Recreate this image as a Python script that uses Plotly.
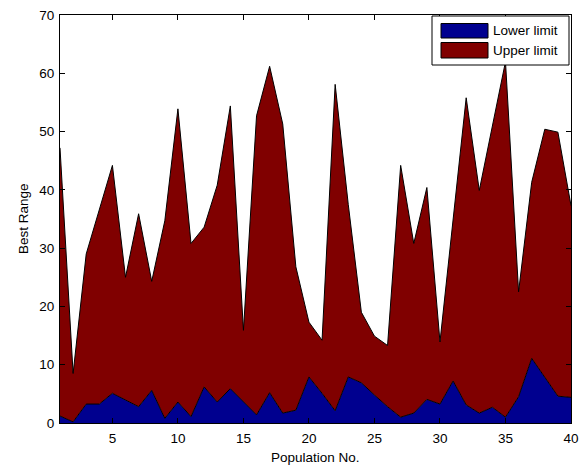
import plotly.graph_objects as go

population = list(range(1, 41))
lower_limit = [1.2, 0.2, 3.25, 3.25, 5.1, 3.9, 2.8, 5.6, 0.8, 3.6,
               1.1, 6.2, 3.6, 5.9, 3.6, 1.4, 5.2, 1.7, 2.2, 7.9,
               5.1, 2.1, 7.9, 6.9, 4.8, 2.8, 1.0, 1.7, 4.05, 3.25,
               7.2, 3.1, 1.7, 2.7, 1.0, 4.5, 11.1, 7.9, 4.6, 4.4]
upper_limit = [47.2, 8.5, 29.0, 36.5, 44.2, 25.0, 35.9, 24.3, 34.7, 53.9,
               30.8, 33.6, 40.8, 54.4, 15.9, 52.7, 61.2, 51.3, 26.8, 17.3,
               14.2, 58.1, 37.5, 19.0, 14.9, 13.3, 44.2, 30.8, 40.4, 13.9,
               34.5, 55.8, 39.9, 50.7, 62.0, 22.5, 41.3, 50.4, 49.9, 37.3]
series_names = ["Lower limit", "Upper limit"]
series_colors = ["#00008F", "#800000"]
x_title = "Population No."
y_title = "Best Range"

x_ticks = [5, 10, 15, 20, 25, 30, 35, 40]
y_ticks = [0, 10, 20, 30, 40, 50, 60, 70]

FONT = "Liberation Sans, Arial, sans-serif"
FS = 13.5

fig = go.Figure()
fig.add_trace(go.Scatter(
    x=population, y=lower_limit, name=series_names[0], mode="lines",
    fill="tozeroy", fillcolor=series_colors[0], line=dict(color="black", width=1),
))
fig.add_trace(go.Scatter(
    x=population, y=upper_limit, name=series_names[1], mode="lines",
    fill="tonexty", fillcolor=series_colors[1], line=dict(color="black", width=1),
))

axis_common = dict(
    showline=True, linecolor="black", linewidth=1, mirror="ticks",
    ticks="inside", ticklen=5, tickcolor="black", showgrid=False,
    zeroline=False, automargin=False, ticklabeloverflow="allow",
    tickfont=dict(family=FONT, size=FS, color="black"),
)
fig.update_xaxes(range=[1, 40], tickvals=x_ticks, ticklabelstandoff=3, **axis_common)
fig.update_yaxes(range=[0, 70], tickvals=y_ticks, ticklabelstandoff=2, **axis_common)

# Pixel -> paper coordinate helpers (plot area: x 60..571, y 15..423)
def px_x(p):
    return (p - 60) / 511.0

def px_y(p):
    return (423 - p) / 408.0

annotations = [
    dict(text=x_title, xref="paper", yref="paper", x=0.5, y=px_y(458),
         xanchor="center", yanchor="middle", showarrow=False,
         font=dict(family=FONT, size=FS, color="black")),
    dict(text=y_title, xref="paper", yref="paper", x=px_x(23), y=0.5,
         xanchor="center", yanchor="middle", textangle=-90, showarrow=False,
         font=dict(family=FONT, size=FS, color="black")),
]

# Legend box (MATLAB style)
shapes = [dict(type="rect", xref="paper", yref="paper",
               x0=px_x(432), x1=px_x(569), y0=px_y(65), y1=px_y(16),
               line=dict(color="black", width=1), fillcolor="white", layer="above")]
swatch_rows = [(23.5, 38), (42.5, 58)]
text_rows = [31, 50]
for name, color, (t, b), ty in zip(series_names, series_colors, swatch_rows, text_rows):
    shapes.append(dict(type="rect", xref="paper", yref="paper",
                       x0=px_x(441), x1=px_x(488), y0=px_y(b), y1=px_y(t),
                       line=dict(color="black", width=1), fillcolor=color, layer="above"))
    annotations.append(dict(text=name, xref="paper", yref="paper",
                            x=px_x(491), y=px_y(ty), xanchor="left", yanchor="middle",
                            showarrow=False, font=dict(family=FONT, size=FS, color="black")))

fig.update_layout(
    width=586, height=467,
    margin=dict(l=60, r=15, t=15, b=44),
    plot_bgcolor="white", paper_bgcolor="white",
    font=dict(family=FONT, size=FS, color="black"),
    showlegend=False,
    shapes=shapes, annotations=annotations,
)

fig.write_html(
    "out.html",
    config={"displayModeBar": False},
    post_script="document.body.style.margin='0';document.body.style.overflow='hidden';",
)
